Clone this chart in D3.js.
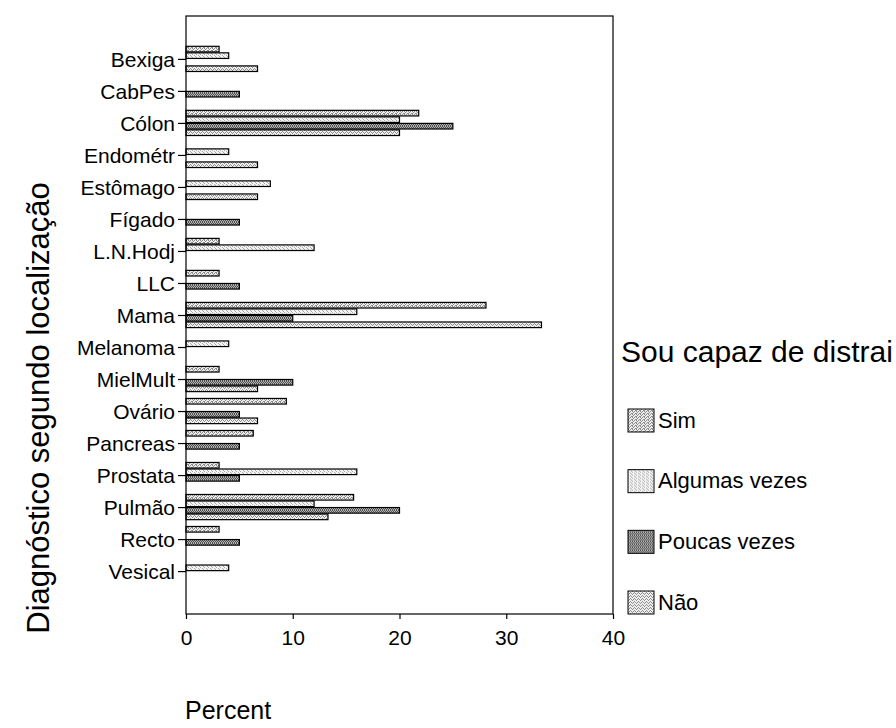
<!DOCTYPE html>
<html>
<head>
<meta charset="utf-8">
<script src="https://cdn.jsdelivr.net/npm/d3@7"></script>
<style>
  html, body { margin: 0; padding: 0; background: #fff; }
  svg { display: block; }
  text { font-family: "Liberation Sans", Arial, sans-serif; fill: #000; }
</style>
</head>
<body>
<svg id="chart" width="896" height="728"></svg>
<script>
// Diagnosis sites (one row each) and the four answer categories
const categories = ["Bexiga", "CabPes", "Cólon", "Endométr", "Estômago", "Fígado",
  "L.N.Hodj", "LLC", "Mama", "Melanoma", "MielMult", "Ovário", "Pancreas",
  "Prostata", "Pulmão", "Recto", "Vesical"];
const series = ["Sim", "Algumas vezes", "Poucas vezes", "Não"];

// Percent of each answer within a diagnosis (null = no bar)
const sim      = [3.1, null, 21.8, null, null, null, 3.1, 3.1, 28.1, null, 3.1, 9.4, 6.3, 3.1, 15.7, 3.1, null];
const algumas  = [4.0, null, 20.0, 4.0, 7.9, null, 12.0, null, 16.0, 4.0, null, null, null, 16.0, 12.0, null, 4.0];
const poucas   = [null, 5.0, 25.0, null, null, 5.0, null, 5.0, 10.0, null, 10.0, 5.0, 5.0, 5.0, 20.0, 5.0, null];
const nao      = [6.7, null, 20.0, 6.7, 6.7, null, null, null, 33.3, null, 6.7, 6.7, null, null, 13.3, null, null];
const seriesValues = [sim, algumas, poucas, nao];

const xTicks = [0, 10, 20, 30, 40];

const svg = d3.select("#chart");
const plot = { left: 186, right: 613, top: 16, bottom: 614 };

const x = d3.scaleLinear().domain([0, 40]).range([plot.left, plot.right]);
const y = d3.scalePoint().domain(categories).range([plot.top, plot.bottom]).padding(1.34);
const inner = d3.scaleBand().domain(series).range([-12.6, 12.6]).paddingInner(0.14);

// Dotted fill textures, one per answer
const textures = [
  { bg: "#ececec", dot: "#8c8c8c", dots: [[0,0],[2,0],[1,1],[3,2],[0,2]] },
  { bg: "#f4f4f4", dot: "#a8a8a8", dots: [[0,0],[2,1],[3,2]] },
  { bg: "#b4b4b4", dot: "#505050", dots: [[0,0],[2,0],[1,1],[3,1],[0,2],[2,2]] },
  { bg: "#eeeeee", dot: "#8e8e8e", dots: [[1,0],[3,0],[0,1],[2,2]] }
];
const defs = svg.append("defs");
textures.forEach((t, i) => {
  const p = defs.append("pattern")
    .attr("id", "tex" + i)
    .attr("patternUnits", "userSpaceOnUse")
    .attr("width", 4).attr("height", 3);
  p.append("rect").attr("width", 4).attr("height", 3).attr("fill", t.bg);
  p.selectAll("rect.d").data(t.dots).join("rect")
    .attr("class", "d")
    .attr("x", d => d[0]).attr("y", d => d[1])
    .attr("width", 1).attr("height", 1)
    .attr("fill", t.dot);
});

// Bars
const rows = [];
categories.forEach((c, ci) => {
  series.forEach((s, si) => {
    const v = seriesValues[si][ci];
    if (v != null) rows.push({ cat: c, ser: s, si, value: v });
  });
});

svg.append("g").selectAll("rect").data(rows).join("rect")
  .attr("x", x(0))
  .attr("y", d => y(d.cat) + inner(d.ser))
  .attr("width", d => x(d.value) - x(0))
  .attr("height", inner.bandwidth())
  .attr("fill", d => `url(#tex${d.si})`)
  .attr("stroke", "#000")
  .attr("stroke-width", 1.2);

// Plot frame
svg.append("rect")
  .attr("x", plot.left).attr("y", plot.top)
  .attr("width", plot.right - plot.left).attr("height", plot.bottom - plot.top)
  .attr("fill", "none").attr("stroke", "#000").attr("stroke-width", 1.2);

// Y axis
const yAxis = svg.append("g")
  .attr("transform", `translate(${plot.left},0)`)
  .call(d3.axisLeft(y).tickSize(8).tickPadding(3));
yAxis.select(".domain").remove();
yAxis.selectAll("text").style("font-size", "21px").attr("dy", "0.35em");
yAxis.selectAll("line").attr("stroke", "#000").attr("stroke-width", 1.2);

// X axis
const xAxis = svg.append("g")
  .attr("transform", `translate(0,${plot.bottom})`)
  .call(d3.axisBottom(x).tickValues(xTicks).tickFormat(d3.format("d")).tickSize(5).tickPadding(11));
xAxis.select(".domain").remove();
xAxis.selectAll("text").style("font-size", "21px");
xAxis.selectAll("line").attr("stroke", "#000").attr("stroke-width", 1.2);

// Axis titles
svg.append("text")
  .attr("x", 185).attr("y", 719)
  .style("font-size", "25px")
  .text("Percent");

svg.append("text")
  .attr("transform", "translate(49,408) rotate(-90)")
  .attr("text-anchor", "middle")
  .style("font-size", "31px")
  .text("Diagnóstico segundo localização");

// Legend
const legend = svg.append("g");
legend.append("text")
  .attr("x", 621).attr("y", 362)
  .style("font-size", "30px")
  .text("Sou capaz de distrai");

const legendY = d3.scalePoint().domain(series).range([420, 602]);
const item = legend.selectAll("g.item").data(series).join("g")
  .attr("class", "item")
  .attr("transform", d => `translate(628,${legendY(d)})`);
item.append("rect")
  .attr("x", 0).attr("y", -11)
  .attr("width", 26).attr("height", 23)
  .attr("fill", (d, i) => `url(#tex${i})`)
  .attr("stroke", "#000").attr("stroke-width", 1);
item.append("text")
  .attr("x", 30).attr("y", 0).attr("dy", "0.35em")
  .style("font-size", "22px")
  .text(d => d);
</script>
</body>
</html>
